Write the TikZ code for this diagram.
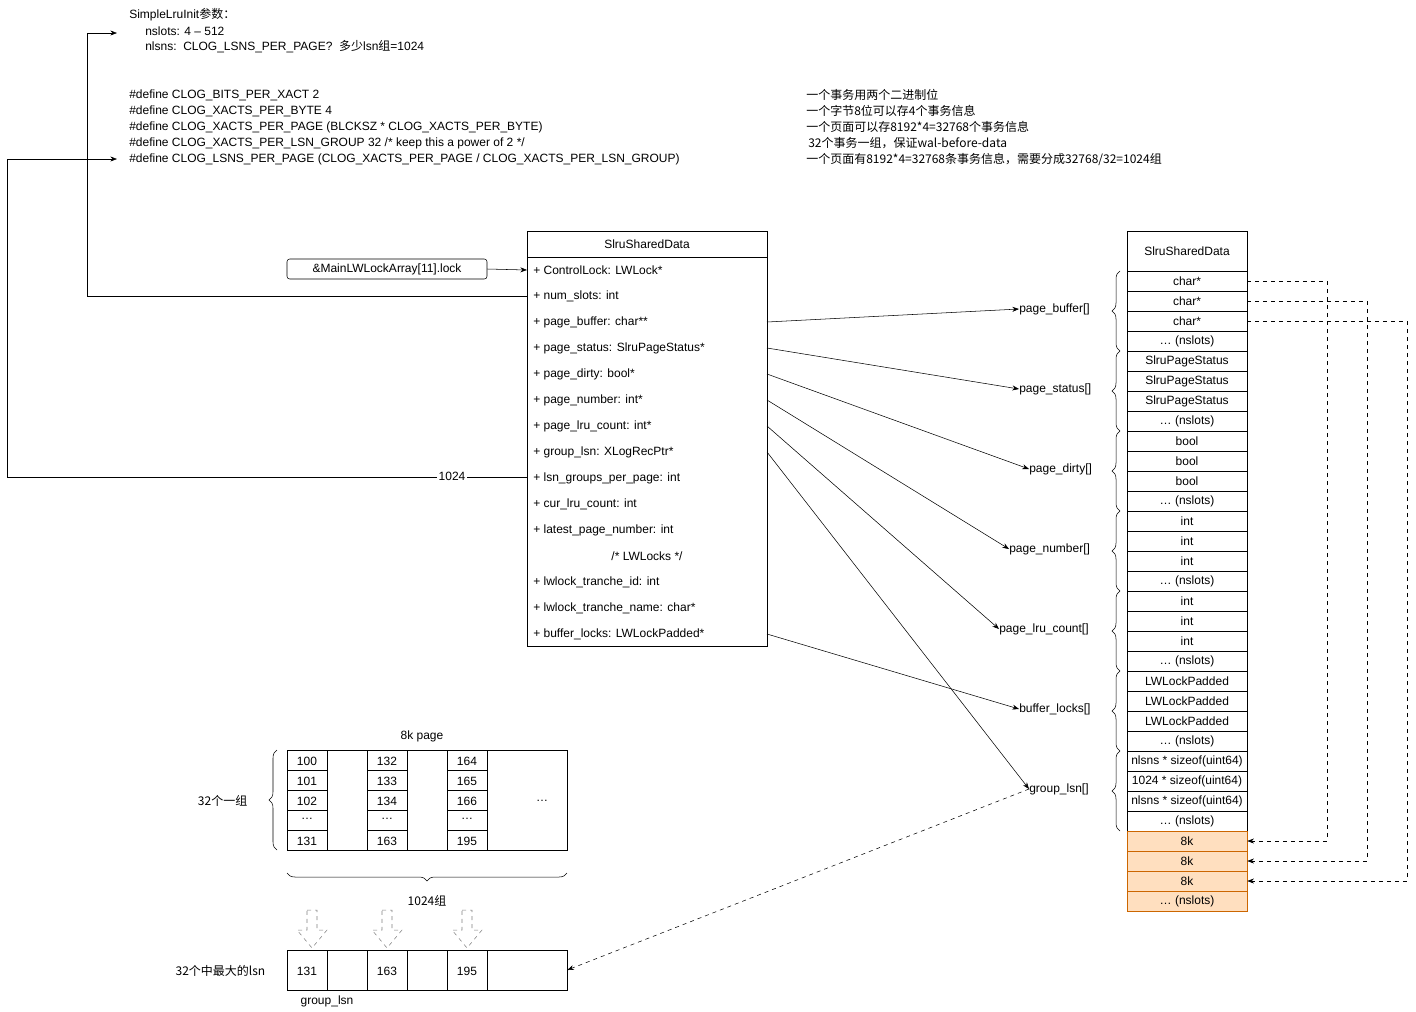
\documentclass[tikz,border=0pt]{standalone}
\usepackage{fontspec}
\setmainfont{Liberation Sans}
\newfontfamily\cjk{Noto Sans CJK SC}
\usetikzlibrary{decorations.pathreplacing,arrows.meta}
\newcommand\nsl{\dots\ (nslots)}
\begin{document}
\begin{tikzpicture}[x=0.75pt,y=-0.75pt,font=\fontsize{9}{11}\selectfont,
  cell/.style={draw,minimum width=90pt,minimum height=15pt,inner sep=0pt},
  orange/.style={cell,fill=orange!25,draw=orange!80!black},
  lbl/.style={anchor=west,inner sep=0pt},
  arr/.style={-{Stealth[length=5pt]}},
  dsh/.style={dashed,-{Stealth[length=5pt]}},
  br/.style={decorate,decoration={brace,amplitude=6pt}},
  blk/.style={draw=gray,dashed,fill=white}]
\useasboundingbox (0,0) rectangle (1416,1011);
% top text
\node[lbl] (t1) at (129,15) {SimpleLruInit{\cjk 参数：}};
\node[lbl] (t2) at (145,31) {nslots: 4 -- 512};
\node[lbl] (t3) at (145,47) {nlsns:\ \ CLOG\_LSNS\_PER\_PAGE?\ \ {\cjk 多少}lsn{\cjk 组}=1024};
\foreach \t [count=\i] in {{\#define CLOG\_BITS\_PER\_XACT 2},{\#define CLOG\_XACTS\_PER\_BYTE 4},{\#define CLOG\_XACTS\_PER\_PAGE (BLCKSZ * CLOG\_XACTS\_PER\_BYTE)},{\#define CLOG\_XACTS\_PER\_LSN\_GROUP 32 /* keep this a power of 2 */},{\#define CLOG\_LSNS\_PER\_PAGE (CLOG\_XACTS\_PER\_PAGE / CLOG\_XACTS\_PER\_LSN\_GROUP)}}
  \node[lbl] (d\i) at (129,79+16*\i) {\t};
\begin{scope}[font=\cjk\fontsize{9}{11}\selectfont]
\node[lbl] (c1) at (806,95) {一个事务用两个二进制位};
\node[lbl] (c2) at (806,111) {一个字节8位可以存4个事务信息};
\node[lbl] (c3) at (806,127) {一个页面可以存8192*4=32768个事务信息};
\node[lbl] (c4) at (808,143) {32个事务一组，保证wal-before-data};
\node[lbl] (c5) at (806,159) {一个页面有8192*4=32768条事务信息，需要分成32768/32=1024组};
\end{scope}
% class box
\draw (527,231) rectangle (767,646);
\draw (527,257) -- (767,257);
\node (hd) at (647,244) {SlruSharedData};
\foreach \t [count=\i from 0] in {{+ ControlLock: LWLock*},{+ num\_slots: int},{+ page\_buffer: char**},{+ page\_status: SlruPageStatus*},{+ page\_dirty: bool*},{+ page\_number: int*},{+ page\_lru\_count: int*},{+ group\_lsn: XLogRecPtr*},{+ lsn\_groups\_per\_page: int},{+ cur\_lru\_count: int},{+ latest\_page\_number: int},{},{+ lwlock\_tranche\_id: int},{+ lwlock\_tranche\_name: char*},{+ buffer\_locks: LWLockPadded*}}
  \node[lbl] (f\i) at (533,270+26*\i) {\t};
\node (f11) at (647,556) {/* LWLocks */};
\coordinate (cl) at (527,270);
\node[draw,rounded corners=2pt,minimum width=150pt,minimum height=15pt,inner sep=0pt] (ml) at (387,269) {\&MainLWLockArray[11].lock};
\draw[arr] (ml.east) -- (cl);
\coordinate (ns) at (527,296);
\coordinate (nsT) at (117,33);
\draw[arr] (ns) -- (87,296) -- (87,33) -- (nsT);
\coordinate (lg) at (527,477);
\coordinate (lgT) at (117,159);
\draw[arr] (lg) -- (7,477) -- (7,159) -- (lgT);
\node[fill=white,inner sep=1pt] (n1024) at (452,476) {1024};
% right array
\node[cell,minimum height=30pt] (h) at (1187,251) {SlruSharedData};
\foreach \t [count=\j from 0] in {{char*},{char*},{char*},{\nsl},{SlruPageStatus},{SlruPageStatus},{SlruPageStatus},{\nsl},{bool},{bool},{bool},{\nsl},{int},{int},{int},{\nsl},{int},{int},{int},{\nsl},{LWLockPadded},{LWLockPadded},{LWLockPadded},{\nsl},{nlsns * sizeof(uint64)},{1024 * sizeof(uint64)},{nlsns * sizeof(uint64)},{\nsl}}
  \node[cell] (r\j) at (1187,281+20*\j) {\t};
\foreach \t [count=\j from 28] in {{8k},{8k},{8k},{\nsl}}
  \node[orange] (r\j) at (1187,281+20*\j) {\t};
% braces and labels
\foreach \t/\x [count=\k from 0] in {page\_buffer[]/1019,page\_status[]/1019,page\_dirty[]/1029,page\_number[]/1009,page\_lru\_count[]/999,buffer\_locks[]/1019,group\_lsn[]/1029}{
  \draw[br] (1120,351+80*\k) -- (1120,271+80*\k);
  \node[lbl] (L\k) at (\x,309+80*\k) {\t};
}
\draw[arr] (767,322) -- (L0.west);
\draw[arr] (767,348) -- (L1.west);
\draw[arr] (767,374) -- (L2.west);
\draw[arr] (767,400) -- (L3.west);
\draw[arr] (767,426) -- (L4.west);
\draw[arr] (767,634) -- (L5.west);
\draw[arr] (767,452) -- (L6.west);
% dashed pointers
\draw[dsh] (r0.east) -- (1327,281) -- (1327,841) -- (r28.east);
\draw[dsh] (r1.east) -- (1367,301) -- (1367,861) -- (r29.east);
\draw[dsh] (r2.east) -- (1407,321) -- (1407,881) -- (r30.east);
% page table
\node (pg) at (422,736) {8k page};
\draw (287,750) rectangle (567,850);
\foreach \x in {327,367,407,447,487} \draw (\x,750) -- (\x,850);
\foreach \x in {287,367,447} \foreach \y in {770,790,810,830} \draw (\x,\y) -- (\x+40,\y);
\foreach \a/\x in {100/307,132/387,164/467}{
  \pgfmathtruncatemacro\b{\a+1}\pgfmathtruncatemacro\c{\a+2}\pgfmathtruncatemacro\d{\a+31}
  \node at (\x,761) {\a}; \node at (\x,781) {\b}; \node at (\x,801) {\c};
  \node at (\x,819) {\dots}; \node at (\x,841) {\d};}
\node at (542,801) {\dots};
\draw[br] (277,850) -- (277,750);
\node[anchor=east,font=\cjk\fontsize{9}{11}\selectfont] (g32) at (252,801) {32个一组};
\draw[br] (567,873) -- (287,873);
\node[font=\cjk\fontsize{9}{11}\selectfont] (g1024) at (427,901) {1024组};
\foreach \x in {312,387,467}
  \draw[blk] (\x-5,910) -- (\x+5,910) -- (\x+5,930) -- (\x+15,930) -- (\x,948) -- (\x-15,930) -- (\x-5,930) -- cycle;
\node[draw,minimum width=210pt,minimum height=30pt,inner sep=0pt] (gl) at (427,970) {};
\foreach \x in {327,367,407,447,487} \draw (\x,950) -- (\x,990);
\node at (307,971) {131}; \node at (387,971) {163}; \node at (467,971) {195};
\node[anchor=east,font=\cjk\fontsize{9}{11}\selectfont] (mx) at (270,971) {32个中最大的lsn};
\node (gn) at (327,1001) {group\_lsn};
\draw[dsh] (L6.west) -- (gl.east);
\end{tikzpicture}
\end{document}
